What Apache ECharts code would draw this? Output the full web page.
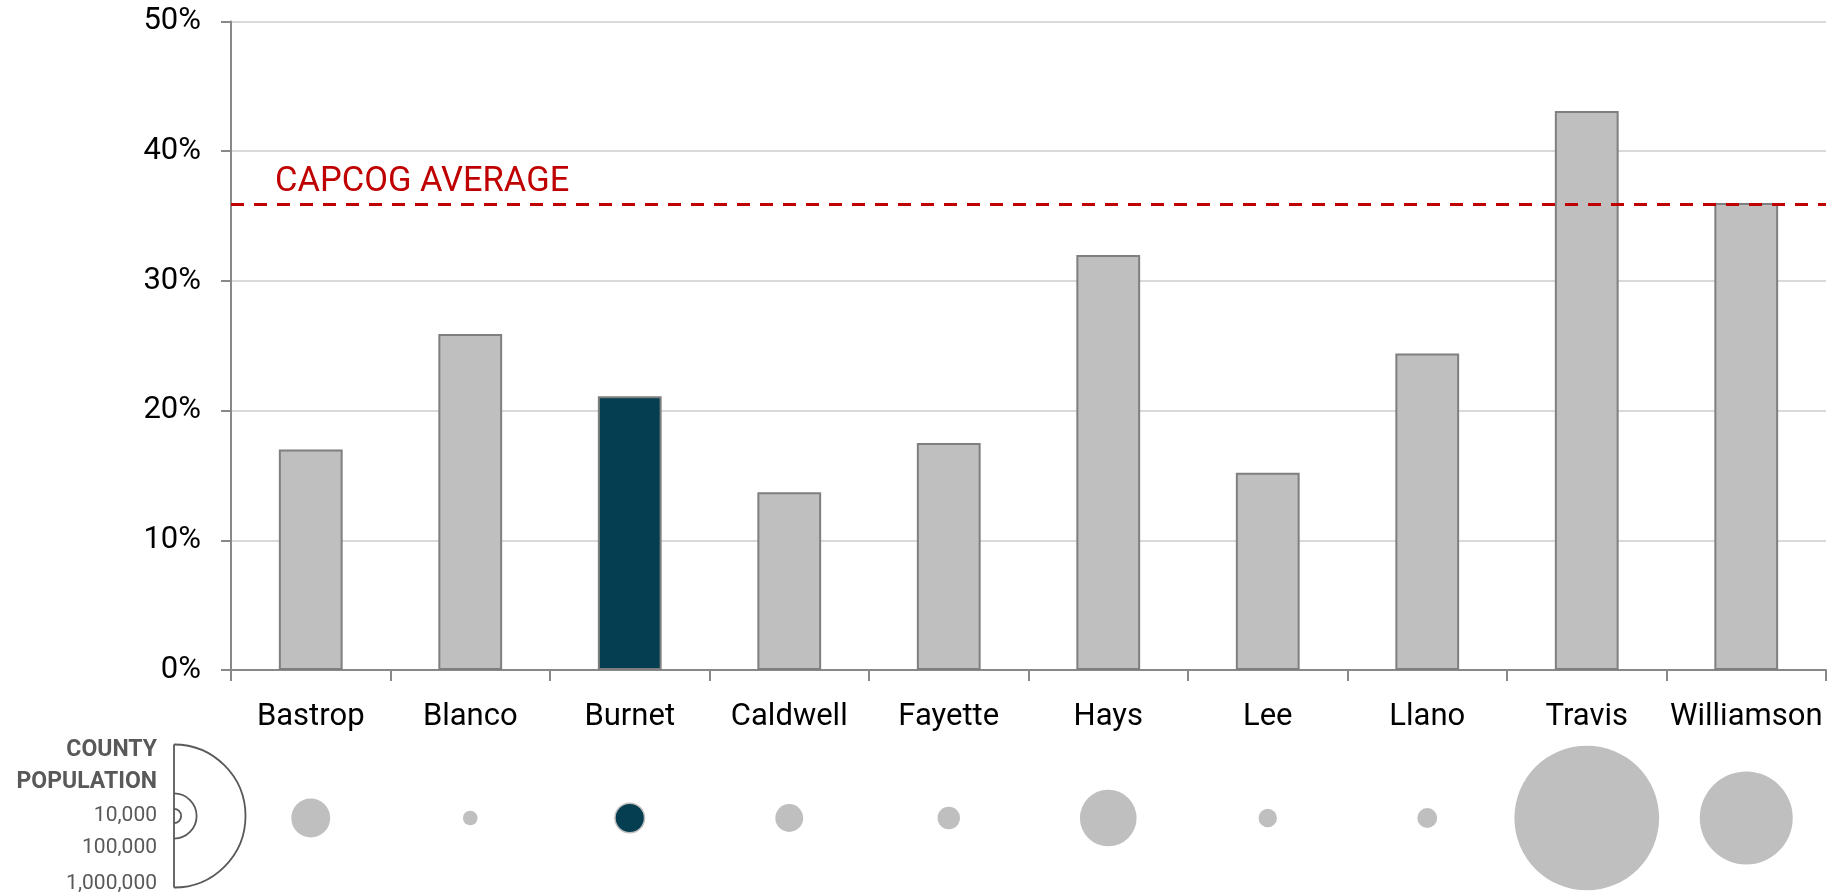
<!DOCTYPE html>
<html>
<head>
<meta charset="utf-8">
<script src="https://cdn.jsdelivr.net/npm/echarts@6/dist/echarts.min.js"></script>
<style>
html,body{margin:0;padding:0;background:#fff;}
#chart{width:1839px;height:896px;}
</style>
</head>
<body>
<div id="chart"></div>
<script>
// ---- data ----
var counties = ['Bastrop','Blanco','Burnet','Caldwell','Fayette','Hays','Lee','Llano','Travis','Williamson'];
var shares = [17.0, 25.9, 21.1, 13.7, 17.5, 32.0, 15.2, 24.4, 43.1, 36.0];   // percent
var populations = [74171, 10497, 42750, 38066, 24554, 157107, 16612, 19301, 1024266, 422679];
var capcogAverage = 35.9;
var yTicks = [0, 10, 20, 30, 40, 50];
var legendPops = [10000, 100000, 1000000];
var legendLabels = ['10,000', '100,000', '1,000,000'];
var highlight = 'Burnet';

// ---- styles ----
var GRAY = '#BFBFBF', DARK = '#053E50', BORDER = '#7F7F7F', AXIS = '#888888';
var FONT = 'Roboto';
var R_MAX = 71.5; // radius (px) for 1,000,000 people
function radiusFor(p){ return R_MAX * Math.sqrt(p / 1000000); }

var chart = echarts.init(document.getElementById('chart'));

var barData = counties.map(function(c, i){
  return {value: shares[i], itemStyle: {color: c === highlight ? DARK : GRAY}};
});
var bubbleData = counties.map(function(c, i){
  return {value: [c, 0, populations[i]],
          itemStyle: c === highlight ? {color: DARK, borderColor: GRAY, borderWidth: 1.5, opacity: 1} : {color: GRAY, opacity: 1}};
});

// legend graphics
var LX = 174, LY = 816;
var graphics = [];
legendPops.forEach(function(p){
  graphics.push({type:'arc', shape:{cx:LX, cy:LY, r:radiusFor(p), startAngle:-Math.PI/2, endAngle:Math.PI/2, clockwise:true},
    style:{stroke:'#595959', lineWidth:1.8, fill:null}});
});
graphics.push({type:'line', shape:{x1:LX, y1:LY-radiusFor(1000000), x2:LX, y2:LY+radiusFor(1000000)},
  style:{stroke:'#595959', lineWidth:1.8}});
var txt = function(t, y, bold){
  return {type:'text', x:157, y:y, style:{text:t, fill:'#595959', font:(bold?'bold ':'')+(bold?'23px ':'21px ')+FONT,
    textAlign:'right', textVerticalAlign:'middle'}};
};
graphics.push(txt('COUNTY', 750, true));
graphics.push(txt('POPULATION', 782, true));
graphics.push(txt(legendLabels[0], 816, false));
graphics.push(txt(legendLabels[1], 848, false));
graphics.push(txt(legendLabels[2], 884, false));

chart.setOption({
  animation: false,
  backgroundColor: '#fff',
  textStyle: {fontFamily: FONT},
  grid: [
    {left: 231, right: 13, top: 21.5, bottom: 226},
    {left: 231, right: 13, top: 740, bottom: 0}
  ],
  xAxis: [
    {type:'category', gridIndex:0, data: counties, boundaryGap: true,
     axisLine:{show:true, lineStyle:{color:AXIS, width:2}},
     axisTick:{show:true, length:11, lineStyle:{color:AXIS, width:2}},
     axisLabel:{color:'#000', fontSize:31, fontFamily:FONT, margin:32, lineHeight:31, interval:0},
     splitLine:{show:false}},
    {type:'category', gridIndex:1, data: counties, boundaryGap: true, show:false}
  ],
  yAxis: [
    {type:'value', gridIndex:0, min:yTicks[0], max:yTicks[yTicks.length-1], interval:10,
     axisLine:{show:true, lineStyle:{color:AXIS, width:2}},
     axisTick:{show:true, length:10, lineStyle:{color:AXIS, width:2}},
     axisLabel:{color:'#000', fontSize:31, fontFamily:FONT, margin:30, formatter:'{value}%'},
     splitLine:{show:true, lineStyle:{color:'#D9D9D9', width:2}}},
    {type:'value', gridIndex:1, min:-1, max:1, show:false}
  ],
  series: [
    {type:'bar', xAxisIndex:0, yAxisIndex:0, data: barData, barWidth:'40%',
     itemStyle:{borderColor:BORDER, borderWidth:2},
     markLine:{silent:true, symbol:['none','none'],
       lineStyle:{color:'#C00000', width:3, type:[13,10]},
       label:{show:true, position:'insideStartTop', formatter:'CAPCOG AVERAGE', color:'#C00000',
              fontSize:34.5, fontFamily:FONT, distance:[44, 5]},
       data:[{yAxis: capcogAverage}]}},
    {type:'scatter', xAxisIndex:1, yAxisIndex:1, data: bubbleData,
     symbolSize: function(v){ return 2 * radiusFor(v[2]); }}
  ],
  graphic: graphics
});
</script>
</body>
</html>
